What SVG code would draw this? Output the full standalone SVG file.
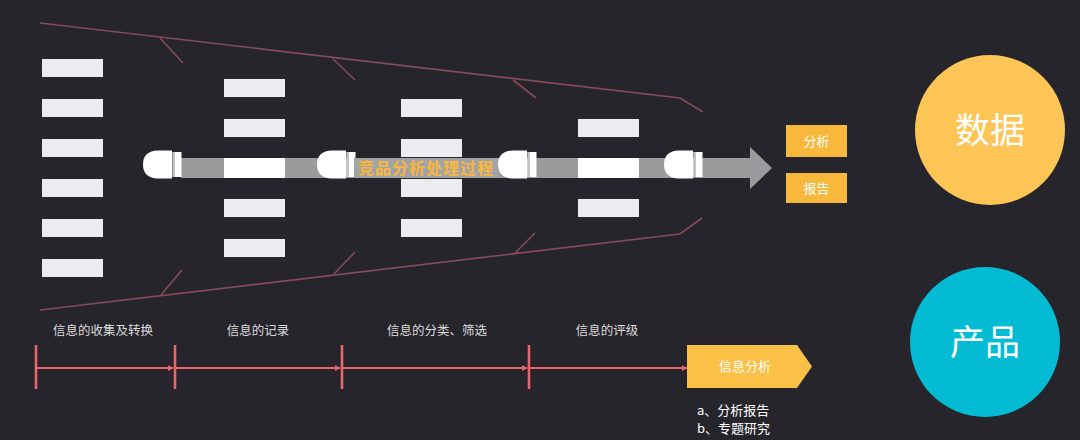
<svg xmlns="http://www.w3.org/2000/svg" width="1080" height="440" viewBox="0 0 1080 440">
<defs>
<style>
.bg{fill:#26252b}
.wbox{fill:#ececf0}
.funnel{stroke:#864c55;stroke-width:1.6;fill:none}
.tl{stroke:#e8666c;stroke-width:2.2;fill:none}
.tick{stroke:#e8666c;stroke-width:2.6}
.lbl{font-family:"Noto Sans CJK SC","Noto Sans",sans-serif;font-size:12.5px;fill:#dcdcdc;text-anchor:middle}
.wt{font-family:"Noto Sans CJK SC","Noto Sans",sans-serif;fill:#ffffff;text-anchor:middle}
.orange{fill:#f8b83c}
.bullet{fill:#ffffff}
</style>
<marker id="ah" viewBox="0 0 8 8" refX="7" refY="4" markerWidth="6" markerHeight="6" orient="auto" markerUnits="userSpaceOnUse">
<path d="M0,0 L8,4 L0,8 Z" fill="#e8666c"/>
</marker>
<g id="bulletShape">
<path class="bullet" d="M172,150.5 L158,150.5 Q143,151 143,164.5 Q143,178 158,178.5 L172,178.5 Z"/>
<rect x="172.5" y="152" width="9" height="25" fill="#ffffff"/>
<line x1="174" y1="152" x2="174" y2="177" stroke="#9a9a9a" stroke-width="1.2"/>
</g>
</defs>
<rect class="bg" x="0" y="0" width="1080" height="440"/>

<g id="funnel">
<polyline class="funnel" points="40,23 680,98 703,112"/>
<line class="funnel" x1="160" y1="38" x2="183" y2="63"/>
<line class="funnel" x1="333" y1="59" x2="355" y2="80"/>
<line class="funnel" x1="513" y1="80" x2="536" y2="98"/>
<polyline class="funnel" points="40,310 680,234 702,218"/>
<line class="funnel" x1="161" y1="295" x2="182" y2="270"/>
<line class="funnel" x1="334" y1="274" x2="355" y2="252"/>
<line class="funnel" x1="515" y1="253" x2="535" y2="233"/>
</g>

<g id="col1">
<rect class="wbox" x="42" y="59" width="61" height="18"/>
<rect class="wbox" x="42" y="99" width="61" height="18"/>
<rect class="wbox" x="42" y="139" width="61" height="18"/>
<rect class="wbox" x="42" y="179" width="61" height="18"/>
<rect class="wbox" x="42" y="219" width="61" height="18"/>
<rect class="wbox" x="42" y="259" width="61" height="18"/>
</g>
<g id="col2">
<rect class="wbox" x="224" y="79" width="61" height="18"/>
<rect class="wbox" x="224" y="119" width="61" height="18"/>
<rect class="wbox" x="224" y="199" width="61" height="18"/>
<rect class="wbox" x="224" y="239" width="61" height="18"/>
</g>
<g id="col3">
<rect class="wbox" x="401" y="99" width="61" height="18"/>
<rect class="wbox" x="401" y="139" width="61" height="18"/>
<rect class="wbox" x="401" y="179" width="61" height="18"/>
<rect class="wbox" x="401" y="219" width="61" height="18"/>
</g>
<g id="col4">
<rect class="wbox" x="578" y="119" width="61" height="18"/>
<rect class="wbox" x="578" y="199" width="61" height="18"/>
</g>

<g id="processBar">
<path d="M181,158 L750,158 L750,147 L772,168 L750,189 L750,178 L181,178 Z" fill="#9b9b9d"/>
<rect x="224" y="158" width="61" height="20" fill="#ffffff"/>
<rect x="401" y="158" width="61" height="20" fill="#ffffff"/>
<rect x="578" y="158" width="61" height="20" fill="#ffffff"/>
<use href="#bulletShape"/>
<use href="#bulletShape" x="174"/>
<use href="#bulletShape" x="355"/>
<use href="#bulletShape" x="521"/>
</g>

<g id="processLabel">
<rect x="354" y="158" width="144" height="20" fill="#a3a3a5"/>
<text x="426" y="174" font-family="'Noto Sans CJK SC','Noto Sans',sans-serif" font-size="16" font-weight="bold" letter-spacing="1" fill="#f7b73e" text-anchor="middle">竞品分析处理过程</text>
</g>

<g id="box-fenxi">
<rect class="orange" x="786" y="125" width="61" height="32"/>
<text class="wt" x="816.5" y="146" font-size="13">分析</text>
</g>
<g id="box-baogao">
<rect class="orange" x="786" y="173" width="61" height="30"/>
<text class="wt" x="816.5" y="193" font-size="13">报告</text>
</g>

<g id="circle-shuju">
<circle cx="990" cy="130" r="75" fill="#fcc555"/>
<text class="wt" x="990" y="143" font-size="35">数据</text>
</g>
<g id="circle-chanpin">
<circle cx="985" cy="342" r="75" fill="#03bcd4"/>
<text class="wt" x="985" y="355" font-size="35">产品</text>
</g>

<g id="timeline">
<line class="tl" x1="36" y1="368" x2="173" y2="368" marker-end="url(#ah)"/>
<line class="tl" x1="175" y1="368" x2="340" y2="368" marker-end="url(#ah)"/>
<line class="tl" x1="342" y1="368" x2="527" y2="368" marker-end="url(#ah)"/>
<line class="tl" x1="529" y1="368" x2="687" y2="368" marker-end="url(#ah)"/>
<line class="tick" x1="36" y1="345" x2="36" y2="389"/>
<line class="tick" x1="175" y1="345" x2="175" y2="389"/>
<line class="tick" x1="342" y1="345" x2="342" y2="389"/>
<line class="tick" x1="529" y1="345" x2="529" y2="389"/>
</g>

<g id="stage-labels">
<text class="lbl" x="103" y="335">信息的收集及转换</text>
<text class="lbl" x="258" y="335">信息的记录</text>
<text class="lbl" x="437" y="335">信息的分类、筛选</text>
<text class="lbl" x="607" y="335">信息的评级</text>
</g>

<g id="info-analysis">
<path d="M687,345 L797,345 L812,366.5 L797,388 L687,388 Z" fill="#fbc046"/>
<text class="wt" x="745" y="371" font-size="13">信息分析</text>
</g>

<g id="outputs">
<text x="697" y="415" font-family="'Noto Sans CJK SC','Noto Sans',sans-serif" font-size="13" fill="#ffffff">a、分析报告</text>
<text x="697" y="433" font-family="'Noto Sans CJK SC','Noto Sans',sans-serif" font-size="13" fill="#ffffff">b、专题研究</text>
</g>
</svg>
